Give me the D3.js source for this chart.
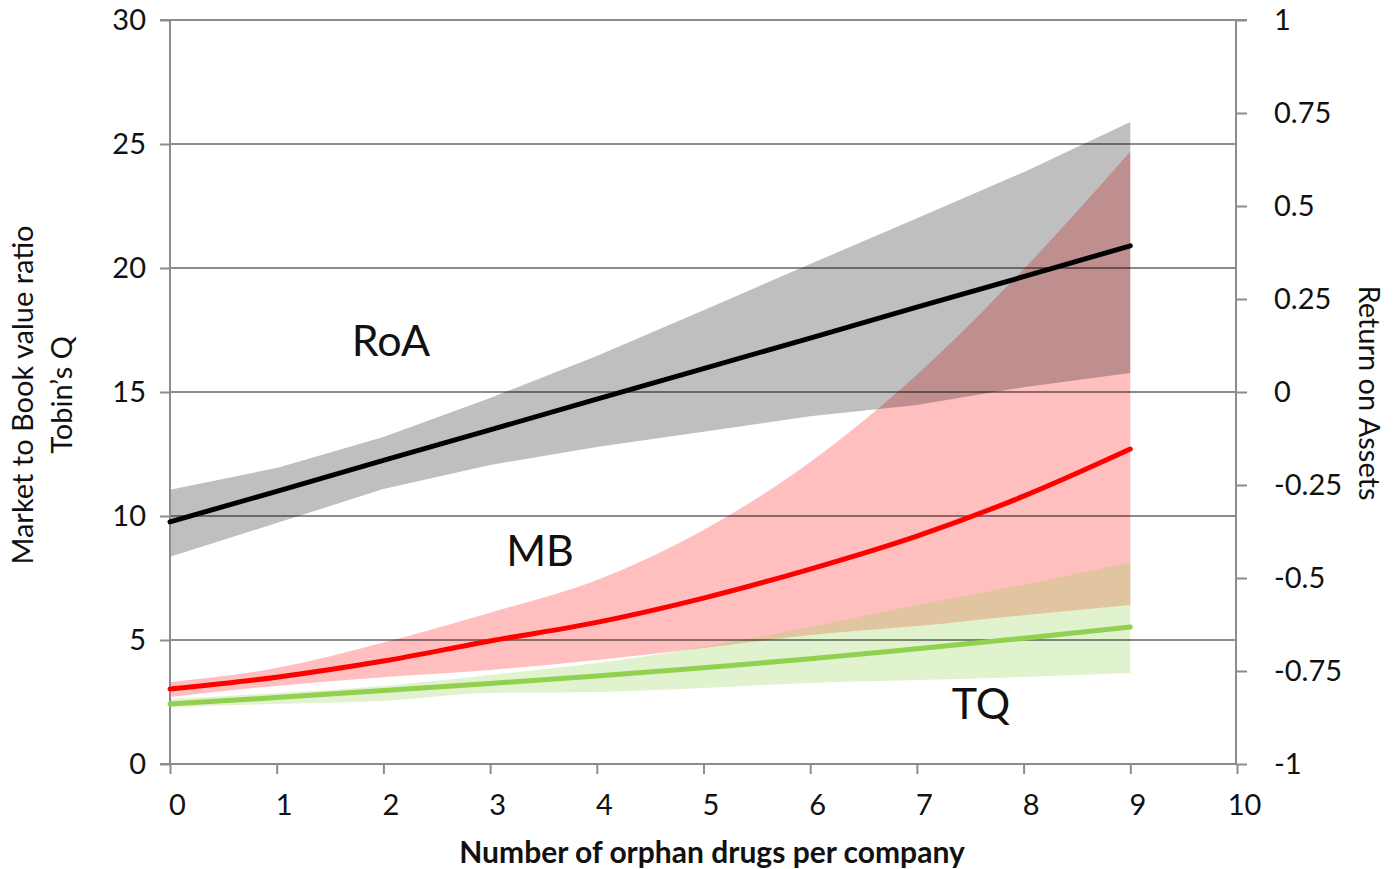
<!DOCTYPE html>
<html><head><meta charset="utf-8">
<script src="https://cdn.jsdelivr.net/npm/d3@7"></script>
<style>body{margin:0;background:#fff;} text{font-family:Lato,"Open Sans",sans-serif;}</style>
</head><body>
<svg id="chart" width="1396" height="869"></svg>
<script>
const xs = [0,1,2,3,4,5,6,7,8,9];
const xTicks = [0,1,2,3,4,5,6,7,8,9,10];
const leftTicks = [0,5,10,15,20,25,30];
const rightTicks = [-1,-0.75,-0.5,-0.25,0,0.25,0.5,0.75,1];
// Return on Assets (right axis)
const roaLine  = [-0.349,-0.267,-0.184,-0.102,-0.019,0.063,0.145,0.228,0.31,0.393];
const roaUpper = [-0.263,-0.204,-0.121,-0.016,0.097,0.22,0.344,0.467,0.591,0.726];
const roaLower = [-0.443,-0.352,-0.261,-0.196,-0.148,-0.107,-0.065,-0.035,0.013,0.051];
// Market to Book (left axis)
const mbLine  = [3.02,3.5,4.15,4.96,5.71,6.69,7.86,9.19,10.8,12.7];
const mbUpper = [3.3,3.87,4.9,6.1,7.42,9.44,12.18,15.7,19.95,24.7];
const mbLower = [2.7,3.15,3.5,3.79,4.19,4.68,5.2,5.56,6.0,6.41];
// Tobin's Q (left axis)
const tqLine  = [2.42,2.68,2.96,3.25,3.55,3.88,4.24,4.65,5.07,5.52];
const tqUpper = [2.62,2.86,3.15,3.59,4.07,4.72,5.52,6.41,7.22,8.15];
const tqLower = [2.3,2.42,2.54,2.86,2.9,3.06,3.27,3.39,3.51,3.67];

const svg = d3.select("#chart");
const L = 170, R = 1237, T = 20, B = 764;
const x = d3.scaleLinear().domain([0,10]).range([L,R]);
const yL = d3.scaleLinear().domain([0,30]).range([B,T]);
const yR = d3.scaleLinear().domain([-1,1]).range([B,T]);

const bandArea = (up, lo, ys, c) => d3.area().x((d,i)=>x(xs[i])).y0((d,i)=>ys(lo[i])).y1((d,i)=>ys(up[i])).curve(c)(up);
const line = (v, ys, c) => d3.line().x((d,i)=>x(xs[i])).y(d=>ys(d)).curve(c)(v);

svg.append("path").attr("d", bandArea(mbUpper, mbLower, yL, d3.curveMonotoneX)).attr("fill","rgba(255,0,0,0.25)");
svg.append("path").attr("d", bandArea(roaUpper, roaLower, yR, d3.curveLinear)).attr("fill","rgba(0,0,0,0.25)");
svg.append("path").attr("d", bandArea(tqUpper, tqLower, yL, d3.curveMonotoneX)).attr("fill","rgba(146,208,80,0.28)");

// gridlines
svg.append("g").selectAll("line").data(leftTicks.filter(t=>t>0 && t<30)).join("line")
  .attr("x1", L).attr("x2", R-1).attr("y1", d=>yL(d)).attr("y2", d=>yL(d))
  .attr("stroke","#000").attr("stroke-opacity",0.45).attr("stroke-width",2);

const FS = "29px";
const gL = svg.append("g").attr("transform",`translate(${L},0)`)
  .call(d3.axisLeft(yL).tickValues(leftTicks).tickSize(10).tickPadding(14));
const gR = svg.append("g").attr("transform",`translate(${R-1},0)`)
  .call(d3.axisRight(yR).tickValues(rightTicks).tickSize(11).tickPadding(27).tickFormat(d=>String(d)));
const gB = svg.append("g").attr("transform",`translate(0,${B})`)
  .call(d3.axisBottom(x).tickValues(xTicks).tickSize(10).tickPadding(20).tickFormat(d3.format("d")));
[gL,gR,gB].forEach(g=>{
  g.select(".domain").remove();
  g.selectAll(".tick line").attr("stroke","#8c8c8c").attr("stroke-width",2);
  g.selectAll(".tick text").attr("fill","#111").style("font-size",FS).style("font-family","Lato, sans-serif");
});
gR.selectAll(".tick text").attr("text-anchor","start");
gB.selectAll(".tick text").attr("dx", 7);
const ax = "#8c8c8c";
svg.append("line").attr("x1",L).attr("x2",L).attr("y1",T).attr("y2",B).attr("stroke",ax).attr("stroke-width",2);
svg.append("line").attr("x1",R-1).attr("x2",R-1).attr("y1",T).attr("y2",B).attr("stroke",ax).attr("stroke-width",2);
svg.append("line").attr("x1",L-10).attr("x2",R+10).attr("y1",T).attr("y2",T).attr("stroke",ax).attr("stroke-width",2);
svg.append("line").attr("x1",L-10).attr("x2",R).attr("y1",B).attr("y2",B).attr("stroke",ax).attr("stroke-width",2);

svg.append("path").attr("d", line(mbLine,yL,d3.curveMonotoneX)).attr("fill","none").attr("stroke","#ff0000").attr("stroke-width",5).attr("stroke-linecap","round");
svg.append("path").attr("d", line(tqLine,yL,d3.curveMonotoneX)).attr("fill","none").attr("stroke","#92d050").attr("stroke-width",5).attr("stroke-linecap","round");
svg.append("path").attr("d", line(roaLine,yR,d3.curveLinear)).attr("fill","none").attr("stroke","#000").attr("stroke-width",5).attr("stroke-linecap","round");

const lab = (t,px,py)=>svg.append("text").attr("x",px).attr("y",py).attr("text-anchor","middle").style("font-size","43px").attr("fill","#111").text(t);
lab("RoA", 391, 356);
lab("MB", 540, 566);
lab("TQ", 981, 719);

svg.append("text").attr("transform","translate(33,395) rotate(-90)").attr("text-anchor","middle").style("font-size","29px").attr("fill","#111").text("Market to Book value ratio");
svg.append("text").attr("transform","translate(72,395) rotate(-90)").attr("text-anchor","middle").style("font-size","29px").attr("fill","#111").text("Tobin’s Q");
svg.append("text").attr("transform","translate(1359,393) rotate(90)").attr("text-anchor","middle").style("font-size","29px").attr("fill","#111").text("Return on Assets");
svg.append("text").attr("x",712).attr("y",863).attr("text-anchor","middle").style("font-size","30px").style("font-weight","bold").attr("fill","#111").text("Number of orphan drugs per company");
</script>
</body></html>
